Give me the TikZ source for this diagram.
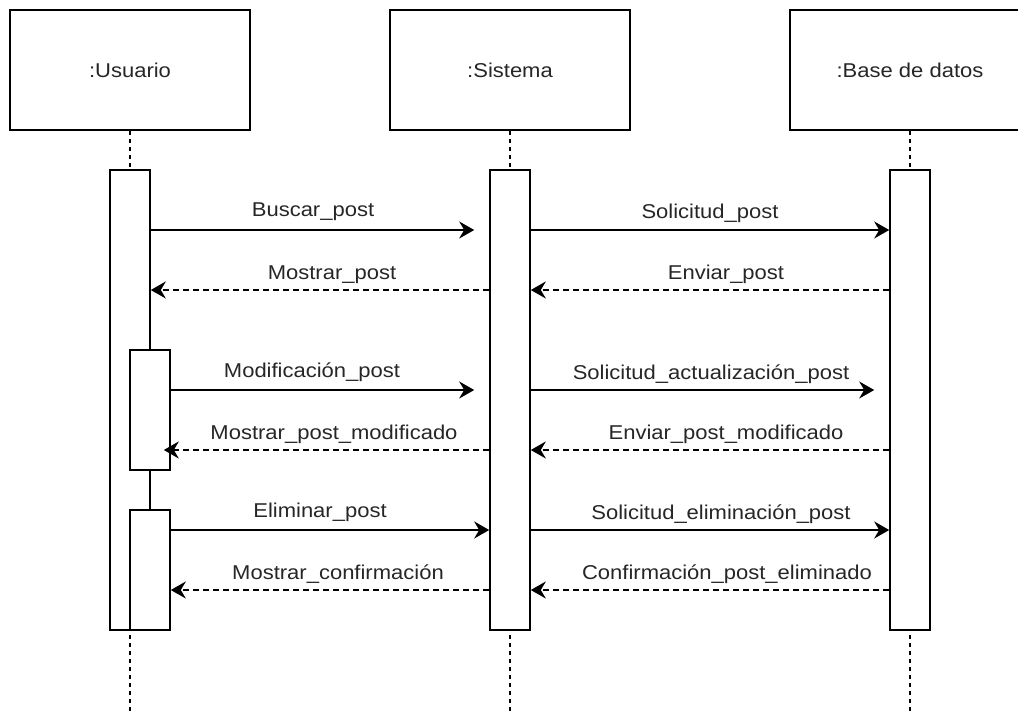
\documentclass[tikz,border=0pt]{standalone}
\usepackage{fontspec}
\setmainfont{Liberation Sans}[FakeStretch=1.1]
\usetikzlibrary{arrows.meta}

\begin{document}
\begin{tikzpicture}[x=1pt,y=-1pt,
  every node/.style={font=\fontsize{20}{24}\selectfont, text=black!85},
  head/.style={draw, line width=1.6pt, fill=white, minimum width=240pt, minimum height=120pt, inner sep=0pt},
  life/.style={line width=1.5pt, dash pattern=on 4pt off 4pt},
  bar/.style={draw, line width=1.6pt, fill=white, minimum width=40pt, inner sep=0pt},
  call/.style={line width=1.6pt, -{Stealth[length=15pt,width=17pt,inset=5pt]}},
  reply/.style={line width=1.6pt, dash pattern=on 6pt off 4pt, -{Stealth[length=15pt,width=17pt,inset=5pt]}},
  lbl/.style={anchor=base, inner sep=0pt}
]
\useasboundingbox (0,0) rectangle (1018,710);
\clip (0,0) rectangle (1018,710);

% participants
\node[head] (u) at (130,70) {:Usuario};
\node[head] (s) at (510,70) {:Sistema};
\node[head] (d) at (910,70) {:Base de datos};

% lifelines
\coordinate (uend) at (130,712);
\coordinate (send) at (510,712);
\coordinate (dend) at (910,712);
\draw[life] (u.south) -- (uend);
\draw[life] (s.south) -- (send);
\draw[life] (d.south) -- (dend);

% activation bars
\node[bar, minimum height=460pt] (ua) at (130,400) {};
\node[bar, minimum height=460pt] (sa) at (510,400) {};
\node[bar, minimum height=460pt] (da) at (910,400) {};
\node[bar, minimum height=120pt] (ub) at (150,410) {};
\node[bar, minimum height=120pt] (uc) at (150,570) {};

% message levels
\coordinate (m1) at (0,230);
\coordinate (m2) at (0,290);
\coordinate (m3) at (0,390);
\coordinate (m4) at (0,450);
\coordinate (m5) at (0,530);
\coordinate (m6) at (0,590);

% Usuario <-> Sistema
\draw[call, shorten >=15pt] (ua.east |- m1) -- (sa.west |- m1);
\draw[reply] (sa.west |- m2) -- (ua.east |- m2);
\draw[call, shorten >=15pt] (ub.east |- m3) -- (sa.west |- m3);
\draw[reply, shorten >=-7pt] (sa.west |- m4) -- (ub.east |- m4);
\draw[call] (uc.east |- m5) -- (sa.west |- m5);
\draw[reply] (sa.west |- m6) -- (uc.east |- m6);

% Sistema <-> Base de datos
\draw[call] (sa.east |- m1) -- (da.west |- m1);
\draw[reply] (da.west |- m2) -- (sa.east |- m2);
\draw[call, shorten >=15pt] (sa.east |- m3) -- (da.west |- m3);
\draw[reply] (da.west |- m4) -- (sa.east |- m4);
\draw[call] (sa.east |- m5) -- (da.west |- m5);
\draw[reply] (da.west |- m6) -- (sa.east |- m6);

% message labels
\node[lbl] (l1) at (313,216) {Buscar\_post};
\node[lbl] (l2) at (332,279) {Mostrar\_post};
\node[lbl] (l3) at (312,377) {Modificación\_post};
\node[lbl] (l4) at (334,439) {Mostrar\_post\_modificado};
\node[lbl] (l5) at (320,517) {Eliminar\_post};
\node[lbl] (l6) at (338,579) {Mostrar\_confirmación};
\node[lbl] (r1) at (710,218) {Solicitud\_post};
\node[lbl] (r2) at (726,279) {Enviar\_post};
\node[lbl] (r3) at (711,379) {Solicitud\_actualización\_post};
\node[lbl] (r4) at (726,439) {Enviar\_post\_modificado};
\node[lbl] (r5) at (721,519) {Solicitud\_eliminación\_post};
\node[lbl] (r6) at (727,579) {Confirmación\_post\_eliminado};
\end{tikzpicture}
\end{document}
